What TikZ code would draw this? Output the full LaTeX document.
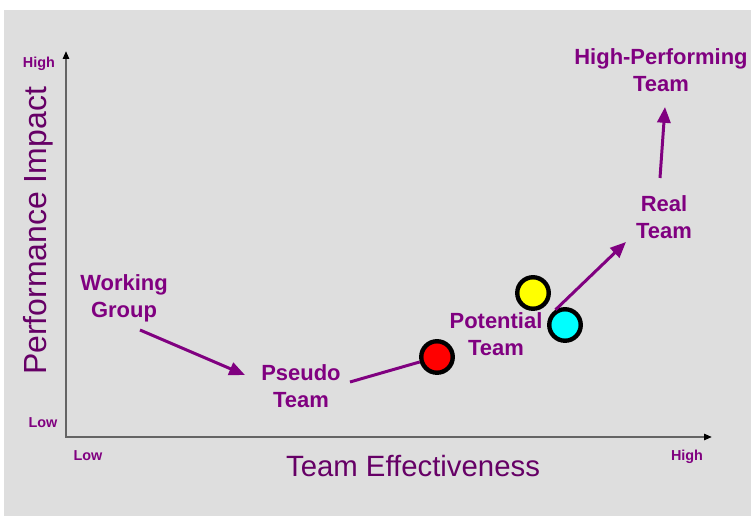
\documentclass[tikz,border=0pt]{standalone}
\usepackage{fontspec}
\setmainfont{Liberation Sans}
\usetikzlibrary{arrows.meta}
\definecolor{backdrop}{RGB}{222,222,222}
\definecolor{stage}{RGB}{128,0,128}
\definecolor{axistitle}{RGB}{102,0,102}
\definecolor{axisline}{RGB}{100,100,100}
\definecolor{dotred}{RGB}{255,0,0}
\definecolor{dotyellow}{RGB}{255,255,0}
\definecolor{dotcyan}{RGB}{0,255,255}

\begin{document}
\begin{tikzpicture}[x=0.02cm, y=-0.02cm,
        stage/.style={text=stage, font=\bfseries\fontsize{12.5}{15.4}\selectfont, align=center, inner sep=0pt},
        level/.style={text=stage, font=\bfseries\fontsize{8.2}{10}\selectfont, inner sep=0pt},
        title/.style={text=axistitle, font=\fontsize{16.7}{20}\selectfont, inner sep=0pt},
        curve/.style={draw=stage, line width=1.7pt},
        marker/.style={circle, draw=black, line width=2.5pt, minimum size=0.63cm, inner sep=0pt}]
    \useasboundingbox (0,0) rectangle (751,516);
    \fill[backdrop] (4,10) rectangle (751,516);

    % axes
    \coordinate (origin) at (66,437);
    \coordinate (ymax) at (66,51);
    \coordinate (xmax) at (712,437);
    \draw[axisline, line width=1.1pt,
        {Triangle[length=4.5pt,width=3.5pt,black]}-{Triangle[length=4.5pt,width=3.5pt,black]}]
        (ymax) -- (origin) -- (xmax);
    \node[level] (yhigh) at (39,64) {High};
    \node[level] (ylow) at (43,423) {Low};
    \node[level] (xlow) at (88,456) {Low};
    \node[level] (xhigh) at (687,457) {High};
    \node[title] (xtitle) at (413,466) {Team Effectiveness};
    \node[title, font=\fontsize{18.2}{22}\selectfont, rotate=90] (ytitle) at (38,231) {Performance Impact};

    % stages along the curve
    \node[stage] (working) at (124,298) {Working\\Group};
    \node[stage] (pseudo) at (301,386) {Pseudo\\Team};
    \node[stage] (potential) at (496,334) {Potential\\Team};
    \node[stage] (real) at (664,217.5) {Real\\Team};
    \node[stage] (highperf) at (661,70) {High-Performing\\Team};

    \node[marker, fill=dotred] (reddot) at (437,357) {};
    \node[marker, fill=dotyellow] (yellowdot) at (533,293) {};
    \node[marker, fill=dotcyan] (cyandot) at (565,325) {};

    \coordinate (wg-tail) at (140,330);
    \coordinate (pt-head) at (245,375);
    \coordinate (pt-tail) at (350,382);
    \coordinate (rt-head) at (626,242);
    \coordinate (rt-tail) at (660,178);
    \coordinate (hp-head) at (665,107);

    \draw[curve, -{Triangle[length=9pt,width=7.5pt]}] (wg-tail) -- (pt-head);
    \draw[curve] (pt-tail) -- (reddot);
    \draw[curve, -{Triangle[length=9pt,width=7.5pt]}] (cyandot.122) -- (rt-head);
    \draw[curve, -{Triangle[length=9pt,width=7.5pt]}] (rt-tail) -- (hp-head);
\end{tikzpicture}
\end{document}
